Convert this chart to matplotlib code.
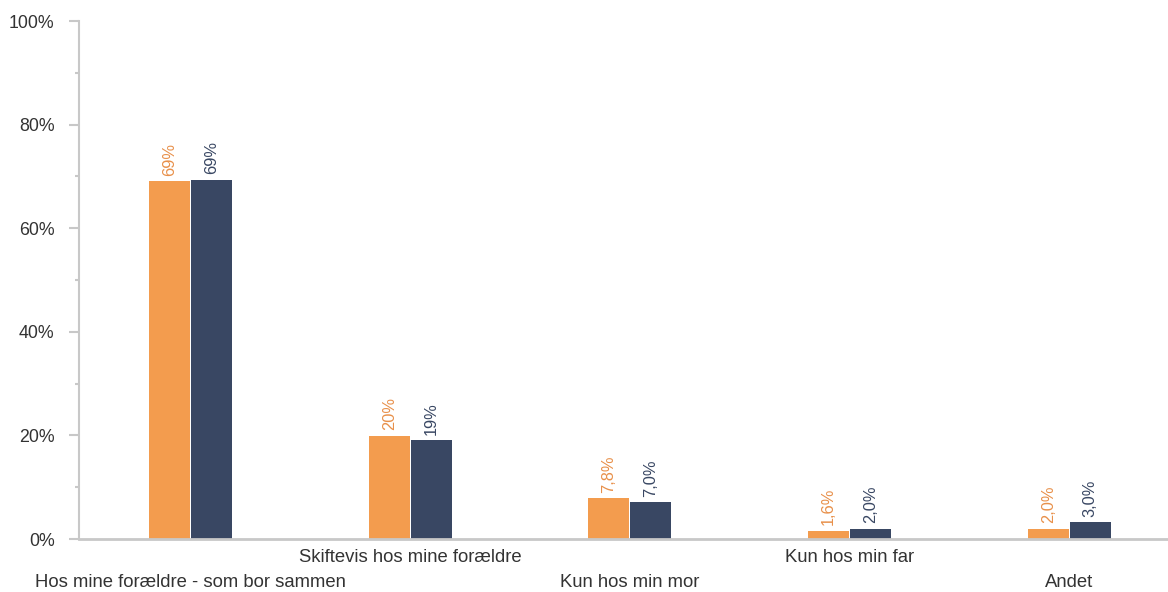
import numpy as np
import matplotlib.pyplot as plt
from matplotlib.ticker import MultipleLocator, FuncFormatter

# Data
categories = ["Hos mine forældre - som bor sammen", "Skiftevis hos mine forældre",
              "Kun hos min mor", "Kun hos min far", "Andet"]
series_a = [69.1, 19.9, 7.9, 1.6, 2.0]
series_b = [69.4, 19.1, 7.1, 2.0, 3.2]
labels_a = ["69%", "20%", "7,8%", "1,6%", "2,0%"]
labels_b = ["69%", "19%", "7,0%", "2,0%", "3,0%"]

orange = "#F39C4E"
orange_txt = "#E8904A"
navy = "#394763"
axis_grey = "#C8C8C8"

plt.rcParams['font.family'] = ['Liberation Sans', 'DejaVu Sans']

fig = plt.figure(figsize=(11.68, 5.92), dpi=100)
ax = fig.add_axes([79 / 1168, 53 / 592, 1 - 79 / 1168, 518 / 592])

x = np.arange(len(categories))
w = 0.187
gap = 0.004
bars_a = ax.bar(x - w / 2 - gap / 2, series_a, w, color=orange)
bars_b = ax.bar(x + w / 2 + gap / 2, series_b, w, color=navy)

for bars, labs, col in [(bars_a, labels_a, orange_txt), (bars_b, labels_b, navy)]:
    for b, lab in zip(bars, labs):
        ax.annotate(lab, (b.get_x() + b.get_width() / 2, b.get_height()),
                    xytext=(0, 4), textcoords="offset points",
                    rotation=90, ha="center", va="bottom", fontsize=11.8, color=col)

ax.set_xlim(-0.508, 4.45)
ax.set_ylim(0, 100)

for s in ["top", "right"]:
    ax.spines[s].set_visible(False)
ax.spines["left"].set_color(axis_grey)
ax.spines["left"].set_linewidth(1.5)
ax.spines["bottom"].set_color(axis_grey)
ax.spines["bottom"].set_linewidth(2)

ax.yaxis.set_major_locator(MultipleLocator(20))
ax.yaxis.set_minor_locator(MultipleLocator(10))
ax.yaxis.set_major_formatter(FuncFormatter(lambda v, p: f"{v:.0f}%"))
ax.tick_params(axis="y", which="major", length=7.5, width=1.5, color=axis_grey,
               labelsize=12.8, labelcolor="#333333", pad=10)
ax.tick_params(axis="y", which="minor", length=3, width=1.5, color=axis_grey)

ax.set_xticks(x)
ax.set_xticklabels(categories)
ax.tick_params(axis="x", length=0, labelsize=13.3, labelcolor="#333333")
for i, t in enumerate(ax.xaxis.get_major_ticks()):
    t.set_pad(25 if i % 2 == 0 else 7)

fig.savefig("out.png", dpi=100)
